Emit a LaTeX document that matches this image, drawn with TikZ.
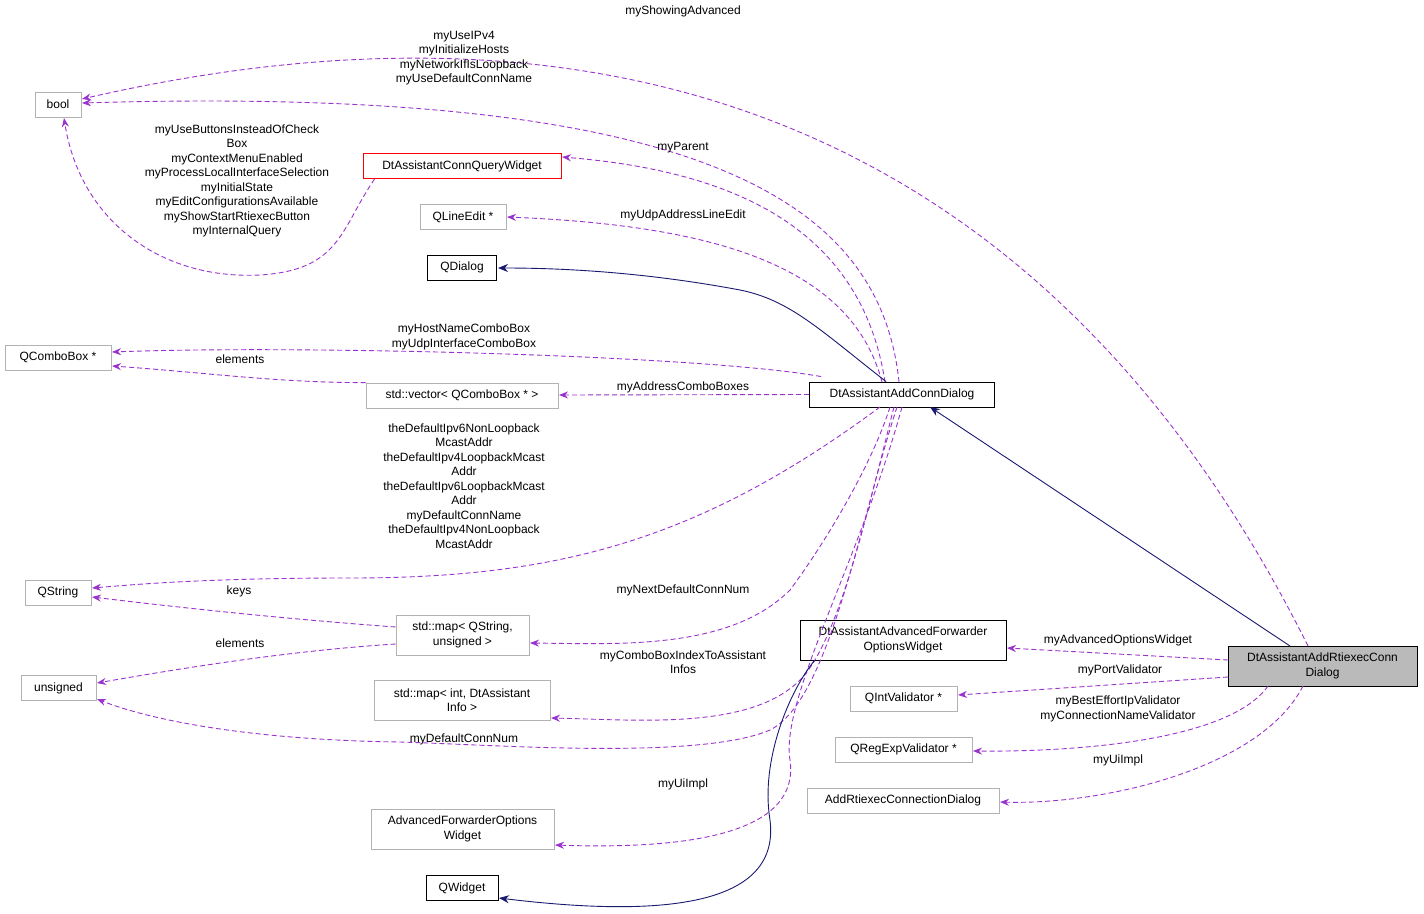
\documentclass[tikz,border=0pt]{standalone}
\usepackage{fontspec}
\setmainfont{Liberation Sans}
\usetikzlibrary{arrows.meta}
\definecolor{pur}{HTML}{9A32CD}
\definecolor{nav}{HTML}{191970}
\begin{document}
\begin{tikzpicture}[x=1pt,y=-1pt,line width=0.9pt,
  every node/.style={font=\fontsize{12}{14.5}\selectfont,align=center,inner sep=0pt},
  g/.style={draw=black!30,fill=white,minimum height=25pt},
  k/.style={draw=black,fill=white,minimum height=25pt},
  r/.style={draw=red,fill=white,minimum height=25pt},
  dep/.style={draw=pur,dash pattern=on 5pt off 3pt,-{Stealth[length=9pt,width=7pt]}},
  inh/.style={draw=nav,-{Stealth[length=10pt,width=8pt]}},
  lb/.style={font=\fontsize{12}{14.5}\selectfont}]
\useasboundingbox (0,0) rectangle (1424,913);
\node[g,minimum width=46pt] (bool) at (58,104.5) {bool};
\node[r,minimum width=198pt] (cq) at (462,166) {DtAssistantConnQueryWidget};
\node[g,minimum width=86pt] (le) at (463,217) {QLineEdit *};
\node[k,minimum width=69pt] (qd) at (462,267.5) {QDialog};
\node[g,minimum width=106pt] (cb) at (58,357.5) {QComboBox *};
\node[g,minimum width=192pt] (vec) at (462,395.5) {std::vector< QComboBox * >};
\node[k,minimum width=185pt] (acd) at (902,394.5) {DtAssistantAddConnDialog};
\node[g,minimum width=66pt] (qs) at (58,592.5) {QString};
\node[g,minimum width=133pt,minimum height=40pt] (mqs) at (462.5,635) {std::map< QString,\\unsigned >};
\node[g,minimum width=75pt] (un) at (58.5,688) {unsigned};
\node[g,minimum width=176pt,minimum height=40pt] (mi) at (462,700) {std::map< int, DtAssistant\\Info >};
\node[g,minimum width=183pt,minimum height=40pt] (afw) at (462.5,829) {AdvancedForwarderOptions\\Widget};
\node[k,minimum width=72pt] (qw) at (462,888) {QWidget};
\node[k,minimum width=206pt,minimum height=40pt] (daf) at (903,640) {DtAssistantAdvancedForwarder\\OptionsWidget};
\node[draw=black,fill=black!27,minimum width=189pt,minimum height=40pt] (rc) at (1322.5,666) {DtAssistantAddRtiexecConn\\Dialog};
\node[g,minimum width=107pt] (iv) at (903.5,698.5) {QIntValidator *};
\node[g,minimum width=137pt] (rv) at (903.5,749.5) {QRegExpValidator *};
\node[g,minimum width=192pt] (ard) at (903,800.5) {AddRtiexecConnectionDialog};
% edges
\draw[dep] (1308,646) .. controls (1150,330) and (820,-70) .. (82,99);
\draw[dep] (899,382) .. controls (880,200) and (700,85) .. (82,103);
\draw[dep] (cq.south west) ++(12,0) .. controls (340,230) and (340,270) .. (260,275) .. controls (160,280) and (80,220) .. (64,118);
\draw[dep] (885,382) .. controls (860,220) and (720,170) .. (562,157);
\draw[dep] (882,382) .. controls (850,260) and (700,225) .. (507,217);
\draw[inh] (acd.north) ++(-16,0) .. controls (820,330) and (790,300) .. (740,290) .. controls (660,275) and (580,268) .. (498,268);
\draw[dep] (acd.north west) ++(12,-5) .. controls (700,355) and (300,345) .. (112,352);
\draw[dep] (vec.north west) .. controls (280,383) and (200,372) .. (112,366);
\draw[dep] (acd.west) -- (559,395);
\draw[dep] (880,407) .. controls (700,540) and (560,578) .. (350,578) .. controls (200,578) and (130,585) .. (92,588);
\draw[dep] (mqs.west) ++(0,-8) .. controls (300,620) and (200,610) .. (92,597);
\draw[dep] (mqs.west) ++(0,9) .. controls (300,650) and (200,665) .. (97,683);
\draw[dep] (890,407) .. controls (870,470) and (820,550) .. (790,590) .. controls (730,650) and (620,644) .. (530,643);
\draw[dep] (894,407) .. controls (870,500) and (840,640) .. (800,680) .. controls (750,730) and (640,720) .. (551,718);
\draw[dep] (897,407) .. controls (860,520) and (830,700) .. (770,730) .. controls (700,760) and (500,745) .. (400,742) .. controls (250,740) and (150,720) .. (97,699);
\draw[dep] (902,407) .. controls (860,560) and (780,700) .. (790,760) .. controls (800,830) and (700,850) .. (555,845);
\draw[inh] (daf.south west) ++(15,0) .. controls (790,690) and (760,760) .. (770,820) .. controls (780,900) and (680,920) .. (499,898);
\draw[inh] (1290,646) -- (930,407);
\draw[dep] (1228,660) -- (1007,648);
\draw[dep] (1228,677) -- (958,695);
\draw[dep] (1268,686) .. controls (1230,740) and (1080,752) .. (973,751);
\draw[dep] (1303,686) .. controls (1260,770) and (1100,805) .. (1000,802);
% labels
\node[lb] at (683,11) {myShowingAdvanced};
\node[lb] at (464,58) {myUseIPv4\\myInitializeHosts\\myNetworkIfIsLoopback\\myUseDefaultConnName};
\node[lb] at (237,181) {myUseButtonsInsteadOfCheck\\Box\\myContextMenuEnabled\\myProcessLocalInterfaceSelection\\myInitialState\\myEditConfigurationsAvailable\\myShowStartRtiexecButton\\myInternalQuery};
\node[lb] at (683,148) {myParent};
\node[lb] at (683,215) {myUdpAddressLineEdit};
\node[lb] at (464,337) {myHostNameComboBox\\myUdpInterfaceComboBox};
\node[lb] at (240,359) {elements};
\node[lb] at (683,387) {myAddressComboBoxes};
\node[lb] at (464,486) {theDefaultIpv6NonLoopback\\McastAddr\\theDefaultIpv4LoopbackMcast\\Addr\\theDefaultIpv6LoopbackMcast\\Addr\\myDefaultConnName\\theDefaultIpv4NonLoopback\\McastAddr};
\node[lb] at (239,591) {keys};
\node[lb] at (240,643) {elements};
\node[lb] at (683,590) {myNextDefaultConnNum};
\node[lb] at (683,662) {myComboBoxIndexToAssistant\\Infos};
\node[lb] at (464,739) {myDefaultConnNum};
\node[lb] at (683,784) {myUiImpl};
\node[lb] at (1118,640) {myAdvancedOptionsWidget};
\node[lb] at (1120,670) {myPortValidator};
\node[lb] at (1118,709) {myBestEffortIpValidator\\myConnectionNameValidator};
\node[lb] at (1118,760) {myUiImpl};
\end{tikzpicture}
\end{document}
